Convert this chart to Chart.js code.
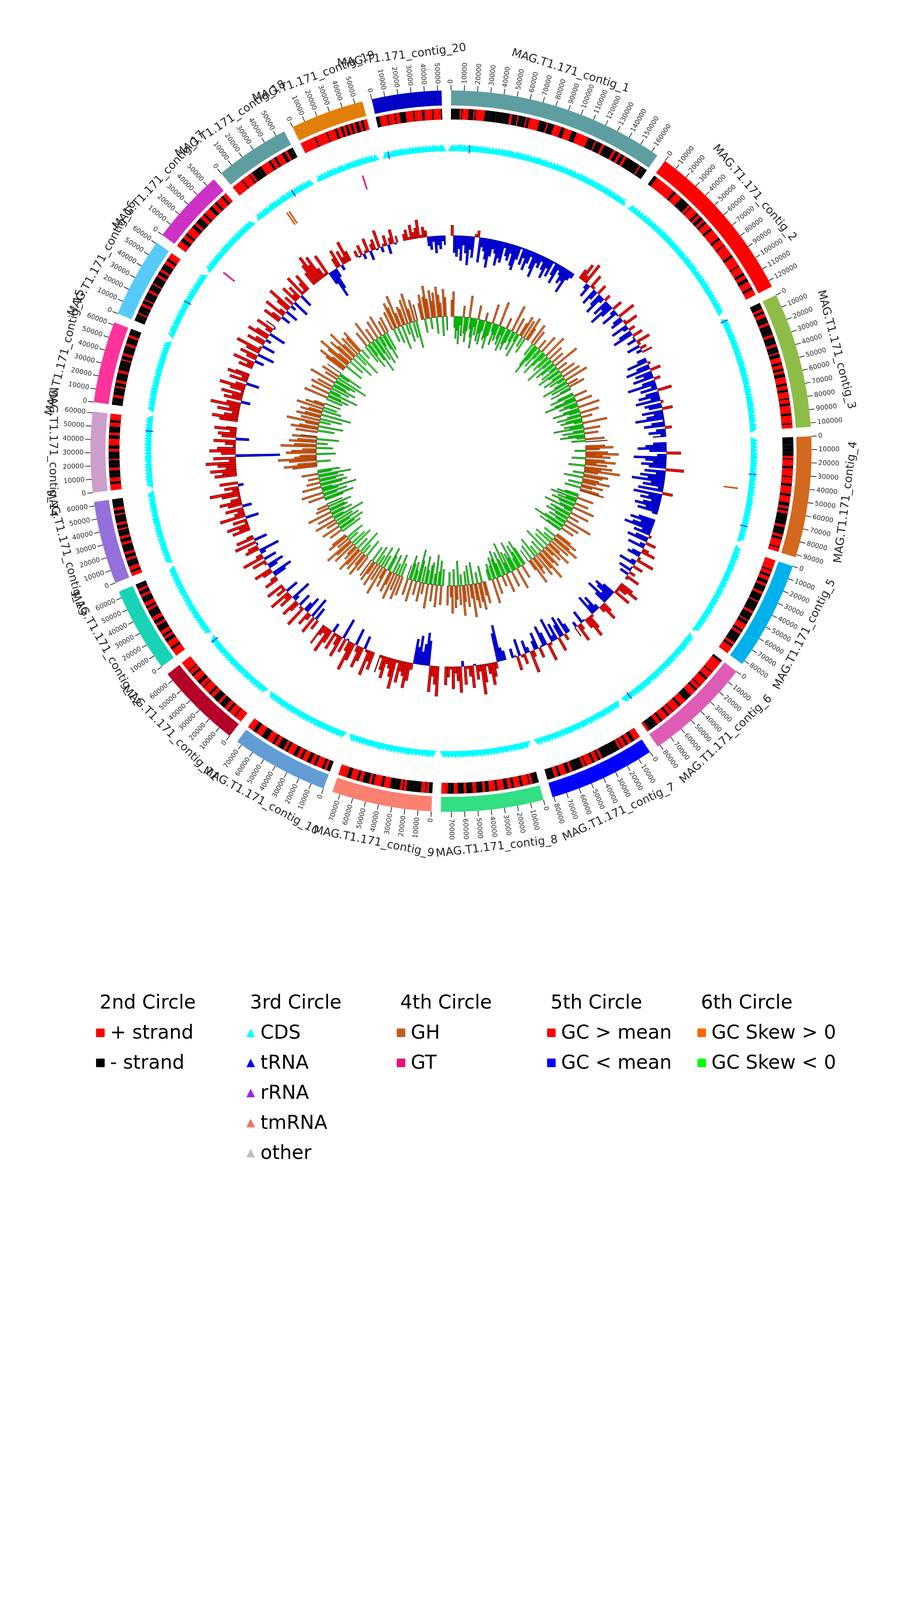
<!DOCTYPE html>
<html>
<head>
<meta charset="utf-8">
<title>MAG.T1.171 genome circos</title>
<script src="https://cdn.jsdelivr.net/npm/chart.js@4.4.1/dist/chart.umd.min.js"></script>
<style>
  html, body { margin: 0; padding: 0; background: #fff; }
  #wrap { position: relative; width: 2310px; height: 4620px; font-family: 'DejaVu Sans', sans-serif; overflow: hidden; }
  #wrap canvas { position: absolute; left: 0; top: 0; }
  .lg { position: absolute; font-size: 49px; line-height: 49px; color: #000; white-space: nowrap; }
  .sq { position: absolute; width: 22px; height: 22px; border-radius: 2px; }
  .tri { position: absolute; width: 0; height: 0; border-left: 11px solid transparent; border-right: 11px solid transparent; border-bottom: 22px solid #000; }
</style>
</head>
<body>
<div id="wrap">
  <canvas id="ringChart" width="2310" height="2310"></canvas>
  <canvas id="trackChart" width="2310" height="2310"></canvas>
  <canvas id="cdsChart" width="2310" height="2310"></canvas>
  <div id="legend"></div>
</div>
<script>
// ---------------- data ----------------
const contigNames = [
  'MAG.T1.171_contig_1', 'MAG.T1.171_contig_2', 'MAG.T1.171_contig_3', 'MAG.T1.171_contig_4',
  'MAG.T1.171_contig_5', 'MAG.T1.171_contig_6', 'MAG.T1.171_contig_7', 'MAG.T1.171_contig_8',
  'MAG.T1.171_contig_9', 'MAG.T1.171_contig_10', 'MAG.T1.171_contig_11', 'MAG.T1.171_contig_12',
  'MAG.T1.171_contig_13', 'MAG.T1.171_contig_14', 'MAG.T1.171_contig_15', 'MAG.T1.171_contig_16',
  'MAG.T1.171_contig_17', 'MAG.T1.171_contig_18', 'MAG.T1.171_contig_19', 'MAG.T1.171_contig_20'
];
const contigLengths = [165000, 125000, 103000, 92000, 83000, 82000, 81000, 78000, 76000, 74000,
                       66000, 65000, 63000, 61000, 62000, 61000, 57000, 57000, 56000, 53000];
const contigColors = ['#5f9ea0', '#ff0000', '#8dbd47', '#d2691e', '#00b1eb', '#df5cb5', '#0000ff', '#32df82',
                      '#fa8072', '#619dd4', '#b40028', '#19d3b6', '#9370db', '#cd9ecb', '#fe349a', '#56cbf9',
                      '#cd31c6', '#5f9ea0', '#e0800a', '#0202c6'];
const tickStep = 10000;

// CDS per contig, in order: length in kb, sign = strand (+ / -)
const genes = [
  [-2,-3,-2,1,-1,2,3,-2,-2,1,-1,3,2,2,-3,-2,-4,-3,-2,-3,-3,2,-2,-2,1,-3,-3,1,-2,3,2,3,-2,-4,1,-3,-2,2,4,-3,3,3,-2,-2,3,2,3,2,-3,-3,1,-2,-3,2,-3,-2,-3,2,-3,2,-3,2,-3,-2,-3,-4,1,-3,-3],
  [-3,4,3,4,3,3,-2,3,3,-3,-2,-3,2,-1,3,3,-2,2,-3,2,-2,3,2,-2,3,3,2,-2,3,2,-1,3,3,3,-2,3,3,2,-1,3,3,-2,3,-3,3,2,-2,3,2],
  [-3,-2,2,-2,3,-3,-2,2,-3,-3,-2,2,-3,-3,2,-3,-2,1,-3,2,2,-2,3,-2,2,-3,3,2,-2,3,-2,3,2,-1,3,-2,3,3,-2,3,3,-1,3],
  [-3,-3,-3,-3,-3,2,-1,3,2,-2,3,3,-1,3,2,-2,3,3,-2,2,3,-3,2,-2,2,-3,-3,-3,2,-3,-3,2,-2,3,3,-1,3],
  [3,3,2,-1,3,-2,3,-3,2,-3,-2,2,-3,-3,1,-3,-3,-2,2,-3,-3,1,-3,3,2,-2,2,-3,-3,-2,2,-2,3,3],
  [-2,3,3,2,2,-1,3,2,-2,3,3,-1,3,-2,2,3,-3,-3,3,2,-2,3,3,-1,3,-2,2,3,-2,3,-3,-3,-2,2],
  [3,2,-3,3,-2,3,-1,2,-3,-3,-3,-3,-3,2,-2,3,-2,3,2,-1,2,-3,-3,-3,2,-3,3,2,-2,3,-3,-3],
  [-3,-2,2,-1,3,2,-2,3,2,-2,3,-3,2,3,-2,3,2,-3,2,-3,-2,3,-2,-3,2,-3,-2,3,-3,-2,3,2],
  [-3,2,-1,3,-3,-3,-3,-3,2,-1,2,-3,-3,-2,3,2,-2,3,3,-2,2,-3,-2,3,-2,3,2,-3,3,2,2],
  [-3,2,-2,3,2,-2,3,-3,2,2,-2,3,-3,3,2,-2,2,-3,-2,3,-2,3,2,-3,-2,2,3,-3,3,2],
  [3,3,-1,3,2,-2,3,-3,-2,2,-3,-2,3,-2,3,3,-1,3,-3,3,2,-2,3,-1,3,3,2],
  [3,3,-2,3,2,-3,2,-2,3,-3,-2,2,-3,3,-3,-3,2,-2,3,-3,-2,2,-3,2,-2,-2],
  [3,-2,3,-3,-2,2,-3,2,-3,-3,2,-3,2,-3,-2,1,-3,2,-3,-3,1,-3,2,-3,-3,-1],
  [3,2,-2,3,-3,-3,2,-3,-3,1,-3,-3,2,-3,3,2,-3,2,-3,-2,3,-2,3,2],
  [-3,-3,2,-3,-3,1,-3,2,-3,-3,2,-3,-3,-2,1,-3,2,-3,-3,2,-3,-2,2,-3,-2],
  [-3,-3,1,-3,-3,2,-3,1,-3,-3,2,-3,-2,1,-3,-3,2,-3,2,-3,-2,3,-2,3,2],
  [3,2,-3,3,-2,3,3,-3,2,-3,-2,3,-2,3,2,-3,3,-2,3,2,-2,3],
  [3,3,3,-1,3,3,-1,2,-3,-3,-3,1,3,3,-2,3,-2,3,2,-3,2,-3,-2],
  [3,3,3,3,-1,3,3,3,-1,3,3,-2,3,-2,2,-2,2,-2,2,-3,2,-2,3],
  [-3,3,3,-1,3,2,-1,3,-3,-2,3,3,-1,3,3,-2,3,3,-1,3,3,-1]
];
// tRNA sites: [contig index, position kb]
const trnaSites = [[0, 16.5], [2, 1], [3, 32], [3, 79], [5, 77], [10, 64], [13, 49], [15, 33], [17, 39], [19, 4]];
// 4th circle: [contig index, start kb, end kb]
const ghSites = [[3, 45.3, 46.8], [17, 23.2, 24.7], [17, 25.6, 27.1]];
const gtSites = [[16, 5.3, 6.8], [18, 38.3, 39.8]];

// GC content (%) and GC skew (x0.01) per 3 kb window
const gcWindowKb = 3;
const gcContent = [
  [50,43,42,44,41,45,43,40,44,42,48,49,41,45,44,42,40,43,45,44,41,43,42,46,44,43,45,42,41,44,47,43,45,42,44,46,43,41,45,44,46,44,42,45,43,47,44,42,46,45,43,44,41,45,46],
  [50,52,49,53,46,44,51,48,43,45,50,44,42,46,49,43,45,41,44,50,46,43,47,52,45,44,48,51,43,46,49,44,42,50,47,45,51,48,44,49,46,50],
  [45,42,48,44,41,50,43,45,42,49,44,40,46,43,51,44,42,45,41,48,43,44,50,42,45,43,40,47,44,42,49,45,43,46,44],
  [44,42,40,43,51,45,39,42,44,41,43,52,42,45,41,43,39,44,42,46,41,50,40,44,42,45,43,41,44,42,46],
  [43,41,44,42,40,45,43,48,44,42,50,46,43,49,51,45,44,48,52,46,43,50,47,44,49,45,51,48],
  [51,53,50,48,52,44,42,43,45,41,44,50,52,49,46,43,45,42,48,51,53,50,47,44,49,52,46,50],
  [45,43,49,42,44,51,43,46,41,48,52,44,42,47,50,43,45,49,53,46,44,50,48,43,51,47,45],
  [45,44,38,40,49,51,53,50,48,52,55,49,51,47,53,50,48,52,46,54,51,49,53,48,50,52],
  [55,52,50,54,41,39,42,44,40,43,41,49,52,54,51,50,53,48,55,52,50,49,53,51,48,52],
  [52,50,54,48,44,51,53,49,43,52,55,50,47,51,42,53,50,48,52,45,51,54,49,50,53],
  [50,44,52,42,49,51,43,45,53,48,44,50,52,46,42,51,49,53,44,50,48,52],
  [51,49,44,42,50,52,45,43,48,51,44,53,49,46,42,51,50,47,53,44,52,49],
  [52,50,53,48,51,44,54,50,49,52,45,51,53,50,48,52,55,49,51,46,52],
  [53,51,54,50,52,55,49,53,36,51,54,52,48,50,53,44,51,52,49,53,50],
  [52,54,51,49,53,50,55,51,45,52,50,53,48,51,54,50,44,52,49,53,51],
  [51,49,53,45,50,52,43,51,54,48,44,52,50,46,53,51,43,49,52,47,50],
  [52,50,45,53,49,44,51,54,46,50,43,52,49,51,44,53,48,50,52],
  [51,53,55,52,54,50,48,53,44,40,42,45,50,52,46,51,49,53,50],
  [49,47,50,46,48,51,45,49,50,47,52,46,48,50,45,49,51,47,49],
  [49,50,48,51,49,50,52,48,50,49,45,44,46,43,45,44,46,45]
];
const gcSkew = [
  [6,9,-4,-8,-5,-10,-3,-7,4,-6,-9,-5,8,-4,-7,-11,-3,-6,5,-8,-5,-9,-4,3,-7,-6,-10,-5,7,-3,-8,-4,-6,9,-5,-7,-3,-9,4,-6,-8,-5,10,-4,-7,6,-3,-9,5,8,-4,7,-6,9,5],
  [8,-5,6,-9,-12,-6,4,-8,-4,7,-10,-6,-3,9,-7,-5,6,-11,-4,5,-8,-6,10,-3,-7,4,-9,-5,6,-4,-8,7,-6,-3,9,-5,-10,4,-7,6,-4,-8],
  [-6,-9,5,-4,-8,-12,6,-5,-7,-3,8,-6,-10,-4,7,-5,-9,4,-6,-8,-3,9,-7,-5,-11,6,-4,-8,5,-6,-9,-3,7,-5,8],
  [7,10,5,-4,8,12,6,9,-5,7,11,4,8,-6,10,6,13,5,-4,9,7,-7,6,10,5,-5,8,4,-6,7,9],
  [-5,-8,6,-10,-4,-7,5,-9,-6,8,-5,-11,-3,7,-8,-6,4,-9,-5,10,-7,-4,6,-8,-12,5,-6,-9],
  [6,9,-5,7,11,-4,8,-7,5,10,-6,7,4,-9,8,6,-5,12,7,-4,9,-8,5,7,-6,10,4,-5],
  [-7,-10,5,-6,-9,-4,8,-11,-5,-7,6,-8,-4,-12,7,-6,-9,4,-5,-10,-7,6,-8,-5,9,-6,-4],
  [8,5,-6,10,7,-4,9,6,-8,12,5,-7,8,-5,6,11,-4,7,-9,5,8,-6,10,4,-5,7],
  [-6,7,-9,-5,8,-11,-4,6,-8,-7,9,-5,-10,4,-6,7,-8,-12,5,-4,-7,8,-6,-9,6,-5],
  [7,-5,9,-8,6,-4,10,-7,5,8,-6,-9,7,4,-5,11,-8,6,-4,9,-7,5,8,-6,7],
  [6,-7,9,5,-4,8,-9,7,10,-5,6,4,-8,9,-6,7,11,-4,5,-7,8,6],
  [-8,5,-6,-10,7,-5,-9,4,-7,8,-12,-4,6,-8,-5,9,-7,-6,5,-9,4,-6],
  [-7,-11,6,-5,-9,8,-6,-13,-4,7,-8,-10,5,-6,-9,4,-7,-12,6,-5,-8],
  [9,12,7,-5,10,14,8,6,-7,11,9,5,-6,13,8,-4,10,7,-8,9,6],
  [8,-6,10,7,-9,5,12,-4,7,-8,9,6,-11,8,5,-7,10,-5,7,4,-6],
  [-6,9,-8,-5,7,-11,-4,8,-7,6,-9,-5,10,-6,-8,5,-12,7,-4,-9,6],
  [8,11,6,-7,9,13,5,-6,10,7,-9,12,6,-5,8,-10,7,9,-4],
  [-7,6,-10,-5,9,-8,-13,5,-6,-9,7,-11,-4,8,-6,-10,5,-7,6],
  [7,-5,10,8,-6,12,5,-9,7,6,-4,9,-7,11,5,-6,8,-10,6],
  [6,9,-5,8,12,7,-4,10,6,9,-6,11,8,5,-7,10,7,-5]
];

const legendTitles = ['2nd Circle', '3rd Circle', '4th Circle', '5th Circle', '6th Circle'];
const legendItems = [
  [['+ strand', '#ff0000', 'square'], ['- strand', '#000000', 'square']],
  [['CDS', '#00ffff', 'triangle'], ['tRNA', '#0000ff', 'triangle'], ['rRNA', '#a020f0', 'triangle'],
   ['tmRNA', '#ff6a6a', 'triangle'], ['other', '#bebebe', 'triangle']],
  [['GH', '#c25e1e', 'square'], ['GT', '#e8117f', 'square']],
  [['GC > mean', '#ff0000', 'square'], ['GC < mean', '#0000ff', 'square']],
  [['GC Skew > 0', '#ff6600', 'square'], ['GC Skew < 0', '#00ff00', 'square']]
];

// ---------------- layout ----------------
const SIZE = 2310;
const GAP_DEG = 1.5;
const R = {
  contigOut: 923.5, contigIn: 885, strandOut: 877, strandIn: 849,
  tickLen: 14, tickLabel: 941, name: 1020,
  cds: 774, featIn: 704, featOut: 741,
  gcBase: 552, gcPx: 10, skewBase: 345, skewPx: 700
};
const PLUS = '#ff0000', MINUS = '#000000', NONE = 'rgba(0,0,0,0)';
const BINS = 3600;

const totalLen = contigLengths.reduce((a, b) => a + b, 0);
const gapBp = totalLen * GAP_DEG / (360 - GAP_DEG * contigLengths.length);
const degPerBp = 360 / (totalLen + gapBp * contigLengths.length);
const contigStart = [];
let acc = 0;
contigLengths.forEach(len => { contigStart.push(acc); acc += (len + gapBp) * degPerBp; });
const angleOf = (ci, bp) => contigStart[ci] + bp * degPerBp;
const toRad = d => d * Math.PI / 180;
const binOf = deg => Math.round(deg * BINS / 360) % BINS;

const common = {
  responsive: false, animation: false, events: [],
  plugins: { legend: { display: false }, tooltip: { enabled: false } }
};

// ---------------- 1st / 2nd circle: contigs and strands ----------------
const contigData = [], contigBg = [];
contigLengths.forEach((len, i) => {
  contigData.push(len, gapBp);
  contigBg.push(contigColors[i], NONE);
});
const strandData = [], strandBg = [];
genes.forEach((list, i) => {
  let used = 0;
  list.forEach(g => {
    const bp = Math.abs(g) * 1000;
    strandData.push(bp);
    strandBg.push(g > 0 ? PLUS : MINUS);
    used += bp;
  });
  if (contigLengths[i] > used) {
    strandData.push(contigLengths[i] - used);
    strandBg.push(strandBg[strandBg.length - 1]);
  }
  strandData.push(gapBp);
  strandBg.push(NONE);
});

const axisLabels = {
  id: 'axisLabels',
  afterDatasetsDraw(chart) {
    const ctx = chart.ctx;
    const cx = (chart.chartArea.left + chart.chartArea.right) / 2;
    const cy = (chart.chartArea.top + chart.chartArea.bottom) / 2;
    ctx.save();
    ctx.strokeStyle = '#000';
    ctx.lineWidth = 1.6;
    ctx.fillStyle = '#262626';
    contigLengths.forEach((len, ci) => {
      ctx.font = '17px "DejaVu Sans"';
      ctx.textBaseline = 'middle';
      for (let bp = 0; bp <= len; bp += tickStep) {
        const deg = angleOf(ci, bp);
        const a = toRad(deg);
        const sx = Math.sin(a), sy = -Math.cos(a);
        ctx.beginPath();
        ctx.moveTo(cx + sx * R.contigOut, cy + sy * R.contigOut);
        ctx.lineTo(cx + sx * (R.contigOut + R.tickLen), cy + sy * (R.contigOut + R.tickLen));
        ctx.stroke();
        ctx.save();
        ctx.translate(cx + sx * R.tickLabel, cy + sy * R.tickLabel);
        if (deg < 180) { ctx.rotate(a - Math.PI / 2); ctx.textAlign = 'left'; }
        else { ctx.rotate(a + Math.PI / 2); ctx.textAlign = 'right'; }
        ctx.fillText(String(bp), 0, 0);
        ctx.restore();
      }
      const mid = angleOf(ci, len / 2);
      const m = toRad(mid);
      ctx.save();
      ctx.translate(cx + Math.sin(m) * R.name, cy - Math.cos(m) * R.name);
      ctx.rotate(mid > 90 && mid <= 270 ? m + Math.PI : m);
      ctx.font = '29px "DejaVu Sans"';
      ctx.textAlign = 'center';
      ctx.textBaseline = 'middle';
      ctx.fillText(contigNames[ci], 0, 0);
      ctx.restore();
    });
    ctx.restore();
  }
};

new Chart(document.getElementById('ringChart'), {
  type: 'doughnut',
  data: {
    datasets: [
      { data: contigData, backgroundColor: contigBg, weight: R.contigOut - R.contigIn },
      { data: [1], backgroundColor: [NONE], weight: R.contigIn - R.strandOut },
      { data: strandData, backgroundColor: strandBg, weight: R.strandOut - R.strandIn }
    ]
  },
  options: {
    ...common,
    radius: R.contigOut,
    cutout: (R.strandIn / R.contigOut * 100) + '%',
    rotation: 0,
    circumference: 360,
    elements: { arc: { borderWidth: 0, hoverOffset: 0 } }
  },
  plugins: [axisLabels]
});

// ---------------- 4th-6th circle: radial bars around a baseline ----------------
class RingBarController extends Chart.PolarAreaController {
  updateElements(arcs, start, count, mode) {
    super.updateElements(arcs, start, count, mode);
    const scale = this._cachedMeta.rScale;
    const base = scale.getDistanceFromCenterForValue(this.getDataset().ringBase);
    for (let i = start; i < start + count; i++) {
      const r = arcs[i].outerRadius;
      arcs[i].innerRadius = Math.min(r, base);
      arcs[i].outerRadius = Math.max(r, base);
    }
  }
}
RingBarController.id = 'ringBar';
RingBarController.defaults = Chart.PolarAreaController.defaults;
RingBarController.overrides = Chart.PolarAreaController.overrides;
Chart.register(RingBarController);

const allGc = gcContent.flat();
const gcMean = allGc.reduce((a, b) => a + b, 0) / allGc.length;

const winAngle = [], gcVal = [], gcBg = [], gcLine = [], skewVal = [], skewBg = [], skewLine = [];
gcContent.forEach((list, ci) => {
  list.forEach((v, k) => {
    const span = Math.min(gcWindowKb * 1000, contigLengths[ci] - k * gcWindowKb * 1000);
    if (span <= 0) return;
    const s = gcSkew[ci][k] / 100;
    winAngle.push(span * degPerBp);
    gcVal.push(v);
    gcBg.push(v > gcMean ? '#ff0000' : '#0000ff');
    gcLine.push('#000');
    skewVal.push(s);
    skewBg.push(s > 0 ? '#ff6600' : '#00ff00');
    skewLine.push('#000');
  });
  winAngle.push(gapBp * degPerBp);
  gcVal.push(gcMean); gcBg.push(NONE); gcLine.push(NONE);
  skewVal.push(0); skewBg.push(NONE); skewLine.push(NONE);
});

const featAngle = [], featVal = [], featBg = [];
contigLengths.forEach((len, ci) => {
  const sites = ghSites.filter(s => s[0] === ci).map(s => [s[1], s[2], '#c25e1e'])
    .concat(gtSites.filter(s => s[0] === ci).map(s => [s[1], s[2], '#e8117f']))
    .sort((a, b) => a[0] - b[0]);
  let cur = 0;
  sites.forEach(([from, to, color]) => {
    featAngle.push((from * 1000 - cur) * degPerBp); featVal.push(0); featBg.push(NONE);
    featAngle.push((to - from) * 1000 * degPerBp); featVal.push(1); featBg.push(color);
    cur = to * 1000;
  });
  featAngle.push((len - cur + gapBp) * degPerBp); featVal.push(0); featBg.push(NONE);
});

const half = SIZE / 2;
const featPx = R.featOut - R.featIn;
new Chart(document.getElementById('trackChart'), {
  type: 'ringBar',
  data: {
    datasets: [
      { data: skewVal, rAxisID: 'rSkew', ringBase: 0, angle: winAngle,
        backgroundColor: skewBg, borderColor: skewLine, borderWidth: 0.9 },
      { data: gcVal, rAxisID: 'rGC', ringBase: gcMean, angle: winAngle,
        backgroundColor: gcBg, borderColor: gcLine, borderWidth: 0.9 },
      { data: featVal, rAxisID: 'rFeat', ringBase: 0, angle: featAngle,
        backgroundColor: featBg, borderWidth: 0 }
    ]
  },
  options: {
    ...common,
    scales: {
      rSkew: { type: 'radialLinear', axis: 'r', display: false, startAngle: 0,
               min: -R.skewBase / R.skewPx, max: (half - R.skewBase) / R.skewPx },
      rGC: { type: 'radialLinear', axis: 'r', display: false, startAngle: 0,
             min: gcMean - R.gcBase / R.gcPx, max: gcMean + (half - R.gcBase) / R.gcPx },
      rFeat: { type: 'radialLinear', axis: 'r', display: false, startAngle: 0,
               min: -R.featIn / featPx, max: (half - R.featIn) / featPx }
    }
  }
});

// ---------------- 3rd circle: CDS / tRNA markers ----------------
const binLabels = new Array(BINS).fill('');
const cdsBins = new Array(BINS).fill(null);
genes.forEach((list, ci) => {
  let pos = 0;
  list.forEach(g => {
    const bp = Math.abs(g) * 1000;
    cdsBins[binOf(angleOf(ci, pos + bp / 2))] = 1;
    pos += bp;
  });
});
const trnaBins = new Array(BINS).fill(null);
trnaSites.forEach(([ci, kb]) => { trnaBins[binOf(angleOf(ci, kb * 1000))] = 1; });

new Chart(document.getElementById('cdsChart'), {
  type: 'radar',
  data: {
    labels: binLabels,
    datasets: [
      { data: trnaBins, rAxisID: 'rCds', showLine: false, fill: false, borderWidth: 0,
        pointStyle: 'line', pointRadius: 10, pointBorderWidth: 2, pointBorderColor: '#0000ff',
        pointRotation: c => c.dataIndex * 360 / BINS - 90 },
      { data: cdsBins, rAxisID: 'rCds', showLine: false, fill: false, borderWidth: 0,
        pointStyle: 'triangle', pointRadius: 12, pointBorderWidth: 0, pointBackgroundColor: '#00ffff',
        pointRotation: c => c.dataIndex * 360 / BINS }
    ]
  },
  options: {
    ...common,
    scales: {
      rCds: { type: 'radialLinear', axis: 'r', display: false, startAngle: 0, min: 0, max: half / R.cds,
              pointLabels: { display: false }, ticks: { display: false },
              grid: { display: false }, angleLines: { display: false } }
    }
  }
});

// ---------------- legend ----------------
const LEG = { x0: 246, dx: 385, titleBase: 2582, rowBase: 2659, dy: 77, ascent: 41 };
const legend = document.getElementById('legend');
function addText(text, x, base) {
  const d = document.createElement('div');
  d.className = 'lg';
  d.textContent = text;
  d.style.left = x + 'px';
  d.style.top = (base - LEG.ascent) + 'px';
  legend.appendChild(d);
}
legendTitles.forEach((title, c) => {
  const x = LEG.x0 + c * LEG.dx;
  addText(title, x + 9, LEG.titleBase);
  legendItems[c].forEach(([label, color, shape], k) => {
    const base = LEG.rowBase + k * LEG.dy;
    const m = document.createElement('div');
    m.className = shape === 'square' ? 'sq' : 'tri';
    m.style.left = x + 'px';
    m.style.top = (base - 26) + 'px';
    if (shape === 'square') m.style.background = color;
    else m.style.borderBottomColor = color;
    legend.appendChild(m);
    addText(label, x + 36, base);
  });
});
</script>
</body>
</html>
